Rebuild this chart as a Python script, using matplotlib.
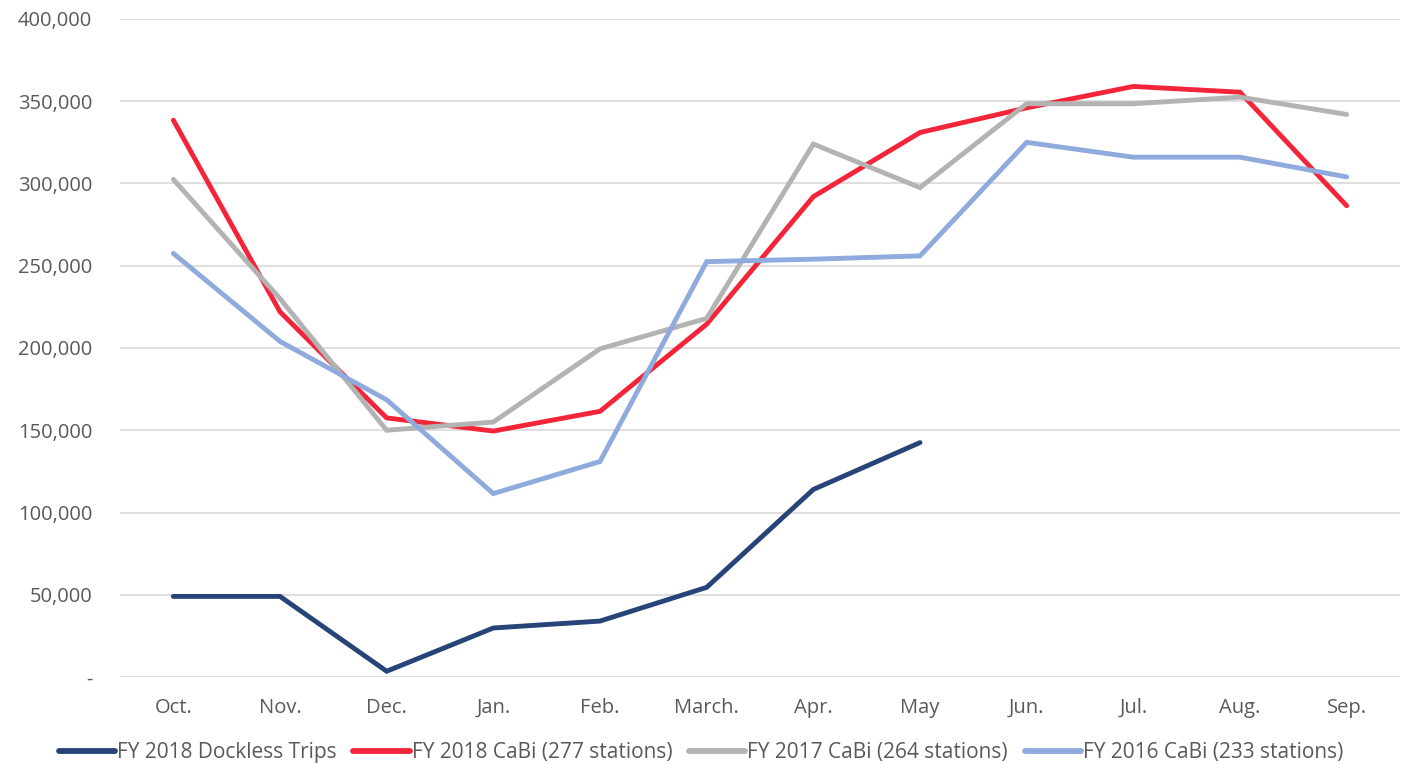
import matplotlib
matplotlib.use("Agg")
import matplotlib.pyplot as plt
from matplotlib.ticker import FuncFormatter

months = ["Oct.", "Nov.", "Dec.", "Jan.", "Feb.", "March.", "Apr.", "May",
          "Jun.", "Jul.", "Aug.", "Sep."]

dockless_2018 = [49000, 49000, 3500, 29800, 34000, 54500, 114000, 142500]
cabi_2018 = [338500, 222000, 157500, 149500, 161500, 214500, 292000, 331000,
             346000, 359000, 355500, 286500]
cabi_2017 = [302500, 230000, 150000, 155000, 199500, 218000, 324000, 297500,
             348500, 348500, 352500, 342000]
cabi_2016 = [257500, 204000, 168500, 111500, 131000, 252500, 254000, 256000,
             325000, 316000, 316000, 304000]

series = [
    ("FY 2018 Dockless Trips", dockless_2018, "#264478"),
    ("FY 2018 CaBi (277 stations)", cabi_2018, "#F42539"),
    ("FY 2017 CaBi (264 stations)", cabi_2017, "#B3B3B3"),
    ("FY 2016 CaBi (233 stations)", cabi_2016, "#8FAADC"),
]

plt.rcParams['font.family'] = ['Open Sans', 'DejaVu Sans']
txt = "#595959"

fig = plt.figure(figsize=(14.02, 7.78), dpi=100)
ax = fig.add_axes([120 / 1402, 101 / 778, 1280 / 1402, 658 / 778])

for label, vals, color in series:
    ax.plot(range(len(vals)), vals, color=color, lw=3.5, label=label,
            solid_capstyle="round", solid_joinstyle="miter")

ax.set_xlim(-0.5, 11.5)
ax.set_ylim(0, 400000)
ax.set_yticks(range(0, 400001, 50000))
ax.yaxis.set_major_formatter(FuncFormatter(lambda v, p: "-" if v == 0 else f"{int(v):,}"))
ax.set_xticks(range(12))
ax.set_xticklabels(months)
ax.tick_params(axis="both", length=0, labelsize=14.5, colors=txt)
ax.tick_params(axis="x", pad=15)
ax.tick_params(axis="y", pad=20)
ax.grid(axis="y", color="#D9D9D9", lw=1.2)
ax.set_axisbelow(True)
for s in ax.spines.values():
    s.set_visible(False)

leg = fig.legend(loc="lower center", bbox_to_anchor=(0.5, -0.005), ncol=4,
                 frameon=False, fontsize=15, handlelength=2.7, handletextpad=0.1,
                 columnspacing=0.8)
for t in leg.get_texts():
    t.set_color(txt)
for h in leg.get_lines():
    h.set_linewidth(4.2)

fig.savefig("out.png", dpi=100)
